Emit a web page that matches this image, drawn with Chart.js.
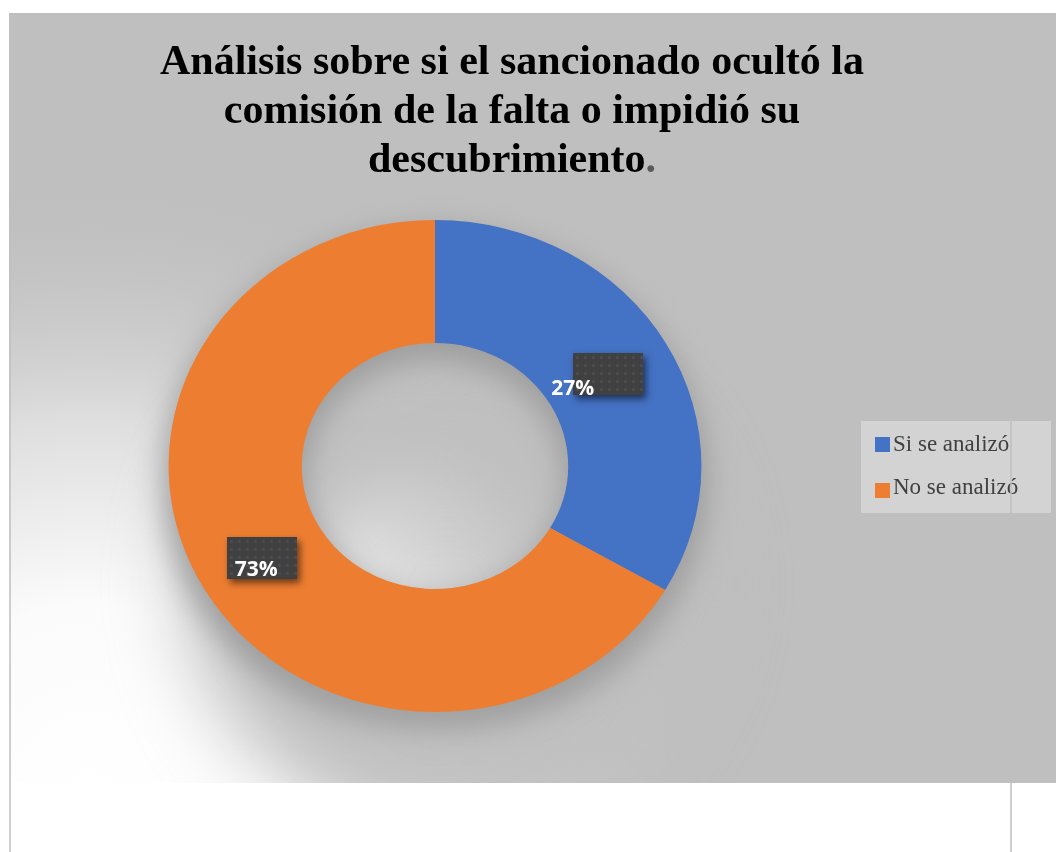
<!DOCTYPE html>
<html>
<head>
<meta charset="utf-8">
<script src="https://cdn.jsdelivr.net/npm/chart.js@4.4.1/dist/chart.umd.min.js"></script>
<style>
  html, body { margin: 0; padding: 0; background: #ffffff; }
  #wrap { width: 1056px; height: 852px; }
</style>
</head>
<body>
<div id="wrap"><canvas id="myChart" width="1056" height="852"></canvas></div>
<script>
// chart data
const categories = ["Si se analizó", "No se analizó"];
const sliceValues = [33.4, 66.6];
const valueLabels = ["27%", "73%"];
const titleLines = [
    "Análisis sobre si el sancionado ocultó la",
    "comisión de la falta o impidió su",
    "descubrimiento."
];

const BLUE_COLOR = "#4472C4";
const ORANGE_COLOR = "#ED7D31";
const PANEL_GRAY = "#BFBFBF";
const LABEL_BOX = "#404040";
//the doughnut in the picture is a bit wider than tall
const STRETCH_X = 1.083;
//where each value text sits relative to its dark box centre
const LABEL_SHIFT = [{ dx: -57, dy: 21 }, { dx: -27, dy: 18 }];

function ringGeometry(chart) {
    const arc = chart.getDatasetMeta(0).data[0];
    return { cx: arc.x, cy: arc.y, r: arc.outerRadius, ir: arc.innerRadius };
}

//ring shaped path (outer ellipse minus the hole), used for the shadows
function ringPath(ctx, x, y, r, ir) {
    ctx.beginPath();
    ctx.ellipse(x, y, r * STRETCH_X, r, 0, 0, Math.PI * 2);
    ctx.moveTo(x + ir * STRETCH_X, y);
    ctx.ellipse(x, y, ir * STRETCH_X, ir, 0, 0, Math.PI * 2);
}

//grey panel, soft light from the lower left and the shadow under the ring
const backdrop = {
    id: 'backdrop',
    beforeDatasetsDraw(chart) {
        const ctx = chart.ctx;
        const { cx, cy, r, ir } = ringGeometry(chart);
        ctx.save();
        ctx.beginPath();
        ctx.rect(9, 13, 1047, 770);
        ctx.clip();
        ctx.fillStyle = PANEL_GRAY;
        ctx.fillRect(9, 13, 1047, 770);

        let glow = ctx.createRadialGradient(90, 790, 0, 90, 790, 620);
        glow.addColorStop(0, "#ffffff");
        glow.addColorStop(0.3, "#fbfbfb");
        glow.addColorStop(0.6, "#dedede");
        glow.addColorStop(1, "rgba(191,191,191,0)");
        ctx.fillStyle = glow;
        ctx.fillRect(9, 13, 1047, 770);

        //long soft shadow falling down
        ctx.filter = 'blur(36px)';
        ctx.fillStyle = PANEL_GRAY;
        ringPath(ctx, cx + 12, cy + 118, r * 0.98, ir);
        ctx.fill('evenodd');

        //close darker shadow round the ring
        ctx.filter = 'blur(14px)';
        ctx.fillStyle = "rgba(150,150,150,0.8)";
        ringPath(ctx, cx, cy + 14, r + 6, ir - 4);
        ctx.fill('evenodd');
        ctx.restore();

        //stretch the arcs horizontally, restored after the datasets
        ctx.save();
        ctx.translate(cx, cy);
        ctx.scale(STRETCH_X, 1);
        ctx.translate(-cx, -cy);
    },
    afterDatasetsDraw(chart) {
        chart.ctx.restore();
    }
};

//dark patterned boxes with the percentage texts
const valueBoxes = {
    id: 'valueBoxes',
    afterDraw(chart) {
        const ctx = chart.ctx;
        const { cx } = ringGeometry(chart);
        chart.getDatasetMeta(0).data.forEach((arc, i) => {
            const p = arc.getCenterPoint();
            const bx = cx + (p.x - cx) * STRETCH_X;
            const by = p.y;
            const w = 70, h = 42;
            const left = Math.round(bx - w / 2), top = Math.round(by - h / 2);
            ctx.save();
            ctx.shadowColor = "rgba(0,0,0,0.55)";
            ctx.shadowBlur = 7;
            ctx.shadowOffsetX = 3;
            ctx.shadowOffsetY = 4;
            ctx.fillStyle = LABEL_BOX;
            ctx.fillRect(left, top, w, h);
            ctx.restore();
            ctx.save();
            ctx.fillStyle = "#4b4b4b";
            for (let yy = top + 3; yy < top + h - 1; yy += 8) {
                for (let xx = left + 3; xx < left + w - 1; xx += 8) {
                    ctx.fillRect(xx, yy, 3, 3);
                }
            }
            ctx.font = "bold 21px 'Open Sans'";
            ctx.fillStyle = "#ffffff";
            ctx.textAlign = "left";
            ctx.textBaseline = "alphabetic";
            ctx.fillText(valueLabels[i], bx + LABEL_SHIFT[i].dx, by + LABEL_SHIFT[i].dy);
            ctx.restore();
        });
    }
};

//title drawn by hand so the closing point can be grey like in the original
const titleBlock = {
    id: 'titleBlock',
    afterDraw(chart) {
        const ctx = chart.ctx;
        ctx.save();
        ctx.font = "bold 42px 'Liberation Serif'";
        ctx.textBaseline = "alphabetic";
        ctx.textAlign = "left";
        titleLines.forEach((line, i) => {
            const y = 74 + i * 49;
            const full = ctx.measureText(line).width;
            let x = 512 - full / 2;
            let body = line, tail = "";
            if (line.endsWith(".")) {
                body = line.slice(0, -1);
                tail = ".";
            }
            ctx.fillStyle = "#000000";
            ctx.fillText(body, x, y);
            if (tail) {
                ctx.fillStyle = "#595959";
                ctx.fillText(tail, x + ctx.measureText(body).width, y);
            }
        });
        ctx.restore();
    }
};

//legend box on the right
const sideLegend = {
    id: 'sideLegend',
    afterDraw(chart) {
        const ctx = chart.ctx;
        const ds = chart.data.datasets[0];
        ctx.save();
        ctx.fillStyle = "#D3D3D3";
        ctx.fillRect(861, 421, 190, 92);
        ctx.font = "23px 'Liberation Serif'";
        ctx.textBaseline = "alphabetic";
        chart.data.labels.forEach((label, i) => {
            const base = 451 + i * 43;
            ctx.fillStyle = ds.backgroundColor[i];
            ctx.fillRect(875, base - 14 + i * 3, 15, 15);
            ctx.fillStyle = "#404040";
            ctx.fillText(label, 893, base);
        });
        ctx.restore();

        //thin page border lines
        ctx.save();
        ctx.strokeStyle = "#C0C0C0";
        ctx.lineWidth = 1.5;
        ctx.beginPath();
        ctx.moveTo(10, 13);
        ctx.lineTo(10, 852);
        ctx.moveTo(1011, 13);
        ctx.lineTo(1011, 852);
        ctx.stroke();
        ctx.restore();
    }
};

new Chart("myChart", {
    type: 'doughnut',
    data: {
        labels: categories,
        datasets: [{
            data: sliceValues,
            backgroundColor: [BLUE_COLOR, ORANGE_COLOR],
            borderWidth: 0,
            hoverOffset: 0
        }]
    },
    options: {
        responsive: false,
        animation: false,
        devicePixelRatio: 1,
        cutout: '50%',
        layout: {
            padding: { left: 189, right: 375, top: 220, bottom: 140 }
        },
        plugins: {
            legend: { display: false },
            title: { display: false },
            tooltip: { enabled: false }
        }
    },
    plugins: [backdrop, valueBoxes, titleBlock, sideLegend]
});
</script>
</body>
</html>
